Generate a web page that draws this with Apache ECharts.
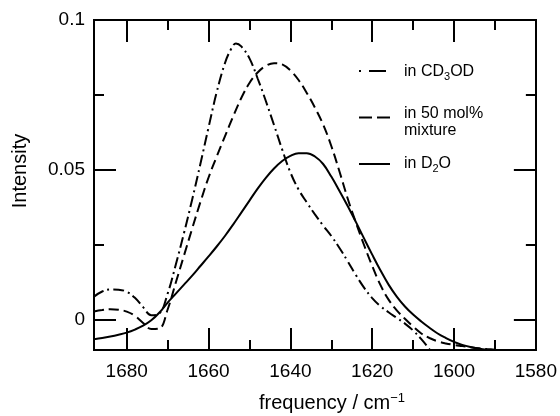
<!DOCTYPE html>
<html><head><meta charset="utf-8">
<script src="https://cdn.jsdelivr.net/npm/echarts@6/dist/echarts.min.js"></script>
<style>html,body{margin:0;padding:0;background:#fff}#c{width:560px;height:416px}</style>
</head><body><div id="c"></div>
<script>
// ---- data ----
const freqCD3OD = [1688,1686,1684,1682,1680,1678,1676,1674,1672,1670,1668,1666,1664,1662,1660,1658,1656,1654.5,1653.3,1652,1650,1648,1646,1644,1642,1640,1638,1636,1634,1632,1630,1628,1626,1624,1622,1620,1618,1616,1614,1612,1610,1608,1606,1604];
const intCD3OD  = [0.0078,0.0095,0.0102,0.0101,0.0094,0.0074,0.0043,0.0016,0.0022,0.0088,0.0185,0.0290,0.0402,0.0520,0.0642,0.0760,0.0856,0.0903,0.0922,0.0912,0.0872,0.0805,0.0730,0.0650,0.0568,0.0492,0.0435,0.0392,0.0352,0.0315,0.0280,0.0240,0.0196,0.0150,0.0108,0.0073,0.0046,0.0026,0.0007,-0.0012,-0.0035,-0.0064,-0.0098,-0.0135];

const freqMix = [1688,1686,1684,1682,1680,1678,1676,1674,1672,1670,1668,1666,1664,1662,1660,1658,1656,1654,1652,1650,1648,1646,1644,1642,1640,1638,1636,1634,1632,1630,1628,1626,1624,1622,1620,1618,1616,1614,1612,1610,1608,1606,1604,1602,1600,1598,1596,1594,1592,1590,1588];
const intMix  = [0.0028,0.0033,0.0036,0.0034,0.0028,0.0014,-0.0010,-0.0030,-0.0028,0.0035,0.0125,0.0215,0.0305,0.0393,0.0475,0.0545,0.0612,0.0678,0.0740,0.0790,0.0825,0.0847,0.0856,0.0852,0.0832,0.0800,0.0757,0.0708,0.0652,0.0580,0.0495,0.0405,0.0325,0.0250,0.0180,0.0117,0.0068,0.0032,0.0004,-0.0022,-0.0045,-0.0060,-0.0071,-0.0078,-0.0083,-0.0087,-0.0091,-0.0094,-0.0097,-0.0099,-0.0100];

const freqD2O = [1688,1686,1684,1682,1680,1678,1676,1674,1672,1670,1668,1666,1664,1662,1660,1658,1656,1654,1652,1650,1648,1646,1644,1642,1640,1638,1636,1634,1632,1630,1628,1626,1624,1622,1620,1618,1616,1614,1612,1610,1608,1606,1604,1602,1600,1598,1596,1594,1592,1590];
const intD2O  = [-0.0064,-0.0060,-0.0055,-0.0049,-0.0042,-0.0032,-0.0019,-0.0001,0.0025,0.0058,0.0088,0.0118,0.0148,0.0180,0.0212,0.0245,0.0280,0.0318,0.0358,0.0398,0.0438,0.0474,0.0505,0.0530,0.0547,0.0556,0.0556,0.0545,0.0520,0.0478,0.0430,0.0380,0.0327,0.0272,0.0218,0.0166,0.0118,0.0078,0.0045,0.0018,-0.0005,-0.0026,-0.0045,-0.0060,-0.0073,-0.0083,-0.0090,-0.0095,-0.0099,-0.0102];

const xMajorTicks = [1680,1660,1640,1620,1600,1580];
const xMinorTicks = [1670,1650,1630,1610,1590];
const yMajorTicks = [0,0.05,0.1];
const yMinorTicks = [0.025,0.075];
const seriesNames = ['in CD3OD','in 50 mol% mixture','in D2O'];

const FONT = "'Liberation Sans', Arial, Helvetica, sans-serif";
const zip = (xs, ys) => xs.map((x, i) => [x, ys[i]]);

function xAx(pos, ticks, len, withLabels) {
  return {
    type: 'value', position: pos, min: 1580, max: 1688, inverse: true, gridIndex: 0,
    axisLine: { show: true, onZero: false, lineStyle: { color: '#000', width: 2 } },
    axisTick: { show: true, inside: true, length: len, customValues: ticks, lineStyle: { color: '#000', width: 2 } },
    axisLabel: { show: withLabels, customValues: ticks, color: '#000', fontSize: 19, fontFamily: FONT, margin: 12,
                 formatter: v => String(v) },
    splitLine: { show: false }
  };
}
function yAx(pos, ticks, len, withLabels) {
  return {
    type: 'value', position: pos, min: -0.01, max: 0.1, gridIndex: 0,
    axisLine: { show: true, onZero: false, lineStyle: { color: '#000', width: 2 } },
    axisTick: { show: true, inside: true, length: len, customValues: ticks, lineStyle: { color: '#000', width: 2 } },
    axisLabel: { show: withLabels, customValues: ticks, color: '#000', fontSize: 19, fontFamily: FONT, margin: 9,
                 formatter: v => String(v) },
    splitLine: { show: false }
  };
}

function mkLine(name, xs, ys, dash) {
  return {
    name, type: 'line', xAxisIndex: 0, yAxisIndex: 0, data: zip(xs, ys),
    showSymbol: false, symbol: 'none', smooth: 0.4, clip: true,
    lineStyle: { color: '#000', width: 2, type: dash }
  };
}

const chart = echarts.init(document.getElementById('c'), null, { renderer: 'canvas' });
chart.setOption({
  animation: false,
  backgroundColor: '#fff',
  grid: { left: 94, right: 24, top: 20, bottom: 66, containLabel: false },
  xAxis: [ xAx('bottom', xMajorTicks, 22, true), xAx('bottom', xMinorTicks, 10, false),
           xAx('top', xMajorTicks, 22, false), xAx('top', xMinorTicks, 10, false) ],
  yAxis: [ yAx('left', yMajorTicks, 22, true), yAx('left', yMinorTicks, 10, false),
           yAx('right', yMajorTicks, 22, false), yAx('right', yMinorTicks, 10, false) ],
  series: [
    mkLine(seriesNames[0], freqCD3OD, intCD3OD, [11, 4, 2, 4]),
    mkLine(seriesNames[1], freqMix, intMix, [10, 5]),
    mkLine(seriesNames[2], freqD2O, intD2O, 'solid')
  ],
  graphic: [
    // legend samples
    { type: 'line', shape: { x1: 359, y1: 71, x2: 361, y2: 71 }, style: { stroke: '#000', lineWidth: 2 } },
    { type: 'line', shape: { x1: 369, y1: 71, x2: 386, y2: 71 }, style: { stroke: '#000', lineWidth: 2 } },
    { type: 'line', shape: { x1: 359, y1: 117.5, x2: 372, y2: 117.5 }, style: { stroke: '#000', lineWidth: 2 } },
    { type: 'line', shape: { x1: 377, y1: 117.5, x2: 390, y2: 117.5 }, style: { stroke: '#000', lineWidth: 2 } },
    { type: 'line', shape: { x1: 359, y1: 164, x2: 390, y2: 164 }, style: { stroke: '#000', lineWidth: 2 } },
    // legend texts
    { type: 'text', x: 404, y: 72, style: {
        text: 'in CD{sub|3}OD', fill: '#000', fontSize: 16, fontFamily: FONT, verticalAlign: 'middle',
        rich: { sub: { fontSize: 11, fontFamily: FONT, lineHeight: 11, padding: [10, 0, 0, 0] } } } },
    { type: 'text', x: 404, y: 122.5, style: {
        text: 'in 50 mol%\nmixture', fill: '#000', fontSize: 16, fontFamily: FONT, lineHeight: 17, verticalAlign: 'middle' } },
    { type: 'text', x: 404, y: 164, style: {
        text: 'in D{sub|2}O', fill: '#000', fontSize: 16, fontFamily: FONT, verticalAlign: 'middle',
        rich: { sub: { fontSize: 11, fontFamily: FONT, lineHeight: 11, padding: [10, 0, 0, 0] } } } },
    // axis titles
    { type: 'text', x: 332, y: 403, style: {
        text: 'frequency / cm{sup|\u22121}', fill: '#000', fontSize: 20, fontFamily: FONT, align: 'center', verticalAlign: 'middle',
        rich: { sup: { fontSize: 13, fontFamily: FONT, lineHeight: 13, padding: [0, 0, 9, 0] } } } },
    { type: 'text', x: 20, y: 171, rotation: Math.PI / 2, style: {
        text: 'Intensity', fill: '#000', fontSize: 20, fontFamily: FONT, align: 'center', verticalAlign: 'middle' } }
  ]
});
</script>
</body></html>
